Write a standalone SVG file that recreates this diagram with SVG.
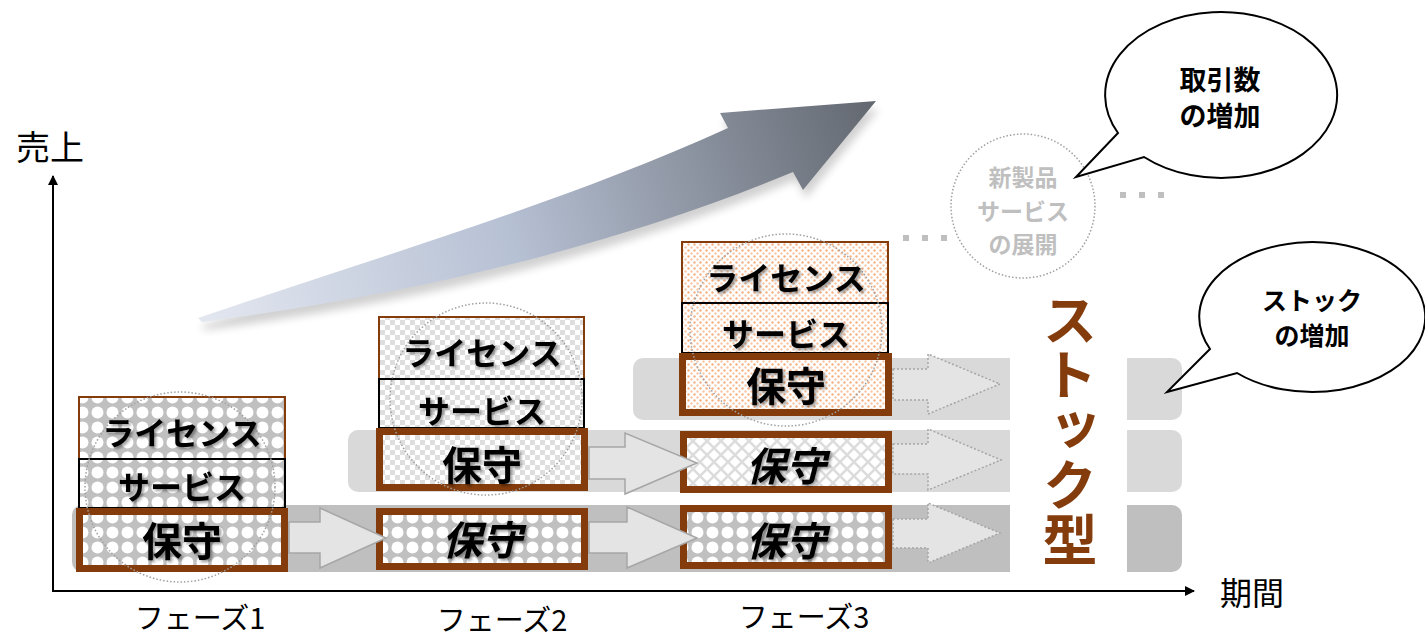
<svg xmlns="http://www.w3.org/2000/svg" width="1425" height="638" viewBox="0 0 1425 638">
<style>
.bt{font-family:"Noto Sans CJK JP","Noto Sans CJK SC",sans-serif;font-weight:bold;fill:#000;text-anchor:middle}
.lbl{font-family:"Noto Sans CJK JP","Noto Sans CJK SC",sans-serif;fill:#000;text-anchor:middle}
.vt{font-family:"Noto Sans CJK JP","Noto Sans CJK SC",sans-serif;font-weight:bold;fill:#843c0c;writing-mode:vertical-rl;text-orientation:upright}
.thin-b{stroke:#843c0c;stroke-width:2}
.thin-k{stroke:#000;stroke-width:2}
.thick{stroke:#843c0c;stroke-width:7}
.arr{fill:#e4e4e4;stroke:#a6a6a6;stroke-width:1.5}
.darr{fill:#e4e4e4;stroke:#a6a6a6;stroke-width:1.5;stroke-dasharray:2 2}
.dc{fill:none;stroke:#a0a0a0;stroke-width:1.5;stroke-dasharray:1.5 2}
.it{font-style:italic}
.gt{fill:#bfbfbf}
</style>
<defs>
<pattern id="pA" width="15" height="15" patternUnits="userSpaceOnUse"><rect width="15" height="15" fill="#c0c0c0"/><circle cx="7.5" cy="7.5" r="6" fill="#fff"/></pattern>
<pattern id="pB" width="10" height="10" patternUnits="userSpaceOnUse"><rect width="10" height="10" fill="#fff"/><rect width="5" height="5" fill="#dedede"/><rect x="5" y="5" width="5" height="5" fill="#dedede"/></pattern>
<pattern id="pC" width="6" height="6" patternUnits="userSpaceOnUse"><rect width="6" height="6" fill="#fff"/><circle cx="1.5" cy="1.5" r="1.2" fill="#f8c8a8"/><circle cx="4.5" cy="4.5" r="1.2" fill="#f4b183"/></pattern>
<pattern id="pD" width="14" height="14" patternUnits="userSpaceOnUse"><rect width="14" height="14" fill="#fff"/><path d="M0 0L14 14M14 0L0 14" stroke="#dcdcdc" stroke-width="2.5"/></pattern>
<linearGradient id="gArrow" x1="200" y1="320" x2="876" y2="100" gradientUnits="userSpaceOnUse">
<stop offset="0" stop-color="#e3e7f0"/><stop offset="0.45" stop-color="#b7c1d4"/><stop offset="1" stop-color="#62676f"/>
</linearGradient>
<filter id="sh" x="-10%" y="-20%" width="130%" height="150%"><feDropShadow dx="2" dy="2" stdDeviation="1.5" flood-color="#000" flood-opacity="0.4"/></filter>
<filter id="blur" x="-10%" y="-20%" width="120%" height="150%"><feGaussianBlur stdDeviation="4"/></filter>
<marker id="ah" markerWidth="10" markerHeight="10" refX="9" refY="5" orient="auto" markerUnits="userSpaceOnUse" viewBox="0 0 10 10"><path d="M0 0L10 5L0 10Z" fill="#000"/></marker>
</defs>

<!-- big gradient arrow -->
<g id="growth-arrow">
<path d="M198 318 C380 256,560 204,728 128 L720 113 L876 101 L803 190 L793 172 C620 244,420 294,202 322 Z" fill="#000" opacity="0.18" filter="url(#blur)" transform="translate(3,8)"/>
<path d="M198 318 C380 256,560 204,728 128 L720 113 L876 101 L803 190 L793 172 C620 244,420 294,202 322 Z" fill="url(#gArrow)"/>
</g>

<!-- axes -->
<g id="axes">
<line x1="53" y1="591" x2="53" y2="176" stroke="#000" stroke-width="2" marker-end="url(#ah)"/>
<line x1="52" y1="591" x2="1194" y2="591" stroke="#000" stroke-width="2" marker-end="url(#ah)"/>
<text class="lbl" x="50" y="160" font-size="34">売上</text>
<text class="lbl" x="1252" y="605" font-size="32">期間</text>
<text class="lbl" x="200" y="629" font-size="29">フェーズ1</text>
<text class="lbl" x="502" y="631" font-size="29">フェーズ2</text>
<text class="lbl" x="804" y="628" font-size="29">フェーズ3</text>
</g>

<!-- bands -->
<g id="bands">
<rect x="72" y="505" width="1110" height="67" rx="10" fill="#bfbfbf"/>
<rect x="348" y="430" width="834" height="62" rx="10" fill="#d9d9d9"/>
<rect x="633" y="358" width="549" height="62" rx="10" fill="#d9d9d9"/>
<rect x="1010" y="350" width="117" height="230" fill="#fff"/>
</g>

<!-- phase 1 -->
<g id="phase1">
<rect x="79" y="397" width="206" height="62" fill="url(#pA)" class="thin-b"/>
<rect x="79" y="459" width="206" height="49" fill="url(#pA)" class="thin-k"/>
<rect x="79.5" y="511.5" width="205" height="57" fill="url(#pA)" class="thick"/>
</g>
<!-- phase 2 -->
<g id="phase2">
<rect x="379" y="317" width="205" height="62" fill="url(#pB)" class="thin-b"/>
<rect x="379" y="379" width="205" height="49" fill="url(#pB)" class="thin-k"/>
<rect x="379.5" y="431.5" width="205" height="56" fill="url(#pB)" class="thick"/>
<rect x="379.5" y="511.5" width="205" height="55" fill="url(#pA)" class="thick"/>
</g>
<!-- phase 3 -->
<g id="phase3">
<rect x="682" y="242" width="206" height="61" fill="url(#pC)" class="thin-b"/>
<rect x="682" y="303" width="206" height="50" fill="url(#pC)" class="thin-k"/>
<rect x="682.5" y="356.5" width="206" height="56" fill="url(#pC)" class="thick"/>
<rect x="683.5" y="434.5" width="205" height="55" fill="url(#pD)" class="thick"/>
<rect x="683.5" y="508.5" width="205" height="57" fill="url(#pA)" class="thick"/>
</g>

<!-- connectors -->
<g id="connectors">
<polygon class="arr" points="289,522 320,522 320,508 386,538 320,568 320,553 289,553"/>
<polygon class="arr" points="589,522 627,522 627,507 697,538 627,568 627,553 589,553"/>
<polygon class="arr" points="589,447 625,447 625,433 697,463 625,494 625,479 589,479"/>
<polygon class="darr" points="893,369 928,369 928,354 1000,384 928,414 928,400 893,400"/>
<polygon class="darr" points="893,444 928,444 928,429 1001,460 928,490 928,474 893,474"/>
<polygon class="darr" points="893,519 928,519 928,503 1000,533 928,563 928,548 893,548"/>
</g>

<!-- dotted circles -->
<g id="circles">
<circle class="dc" cx="180" cy="487" r="95"/>
<circle class="dc" cx="486" cy="399" r="96"/>
<circle class="dc" cx="786" cy="330" r="96"/>
</g>

<!-- box texts -->
<g id="texts" filter="url(#sh)">
<text class="bt" x="182" y="445" font-size="32">ライセンス</text>
<text class="bt" x="182" y="499" font-size="32">サービス</text>
<text class="bt" x="182" y="556" font-size="40">保守</text>
<text class="bt" x="482" y="365" font-size="32">ライセンス</text>
<text class="bt" x="482" y="423" font-size="32">サービス</text>
<text class="bt" x="482" y="480" font-size="40">保守</text>
<text class="bt it" x="482" y="555" font-size="40">保守</text>
<text class="bt" x="786" y="290" font-size="32">ライセンス</text>
<text class="bt" x="786" y="346" font-size="32">サービス</text>
<text class="bt" x="786" y="401" font-size="40">保守</text>
<text class="bt it" x="786" y="481" font-size="40">保守</text>
<text class="bt it" x="786" y="556" font-size="40">保守</text>
</g>

<!-- new products circle -->
<g id="new-products">
<circle class="dc" cx="1023" cy="206" r="72"/>
<text class="bt gt" x="1023" y="186" font-size="23" style="fill:#bfbfbf">新製品</text>
<text class="bt gt" x="1023" y="220" font-size="23" style="fill:#bfbfbf">サービス</text>
<text class="bt gt" x="1023" y="253" font-size="23" style="fill:#bfbfbf">の展開</text>
</g>
<g id="dots" fill="#bfbfbf">
<rect x="903" y="235" width="6" height="6"/><rect x="922" y="235" width="6" height="6"/><rect x="941" y="235" width="6" height="6"/>
<rect x="1120" y="192" width="6" height="6"/><rect x="1139" y="192" width="6" height="6"/><rect x="1158" y="192" width="6" height="6"/>
</g>

<!-- stock type -->
<g id="stock-type">
<text class="vt" x="1070" y="292" font-size="55">ストック型</text>
</g>

<!-- bubbles -->
<g id="bubble-deals">
<path d="M1118 133 L1076 177 L1144 157 A116 83 0 1 0 1118 133 Z" fill="#fff" stroke="#000" stroke-width="2"/>
<text class="bt" x="1220" y="90" font-size="27">取引数</text>
<text class="bt" x="1220" y="126" font-size="27">の増加</text>
</g>
<g id="bubble-stock">
<path d="M1210 349 L1167 392 L1237 373 A113 75 0 1 0 1210 349 Z" fill="#fff" stroke="#000" stroke-width="2"/>
<text class="bt" x="1312" y="310" font-size="25">ストック</text>
<text class="bt" x="1312" y="345" font-size="25">の増加</text>
</g>
</svg>
